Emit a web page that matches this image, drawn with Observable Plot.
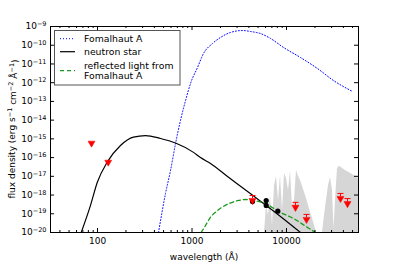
<!DOCTYPE html>
<html><head><meta charset="utf-8">
<script src="https://cdn.jsdelivr.net/npm/d3@7"></script>
<script src="https://cdn.jsdelivr.net/npm/@observablehq/plot@0.6"></script>
<style>body{margin:0;background:#fff} svg{font-family:"DejaVu Sans",sans-serif}</style>
</head><body><div id="chart"></div>
<script>
// Fomalhaut A model (blue dotted)
const fomalhautWave = [442, 524, 592, 669, 755, 854, 964, 1144, 1323, 1648, 2002, 2555, 3422, 4160, 5308, 6772, 9296, 14070, 21280, 31440, 49930];
const fomalhautFlux = [1e-20, 1.2e-18, 2.0e-17, 5.6e-16, 9.6e-15, 1.1e-13, 9.1e-13, 6.5e-12, 3.6e-11, 1.24e-10, 2.6e-10, 4.8e-10, 6.1e-10, 5.4e-10, 4.2e-10, 2.3e-10, 7.6e-11, 2.2e-11, 5.7e-12, 1.3e-12, 3.4e-13];
// neutron star (black)
const neutronWave = [67.2, 84.3, 99.3, 126.7, 175, 240, 322, 464, 669, 1037, 1230, 1570, 2376, 4699, 8640, 14060];
const neutronFlux = [1e-20, 2.8e-19, 4.7e-18, 5.7e-17, 4.4e-16, 1.23e-15, 1.5e-15, 1.05e-15, 6.0e-16, 1.9e-16, 1.0e-16, 4.9e-17, 9.8e-18, 7.4e-19, 7.2e-20, 1e-20];
// reflected light (green dashed)
const reflectedWave = [1250, 1390, 1570, 1774, 2002, 2433, 3105, 3682, 4477, 5709, 8640, 11860, 16690, 20270];
const reflectedFlux = [1e-20, 2.37e-20, 6.6e-20, 1.22e-19, 1.99e-19, 3.42e-19, 5.13e-19, 5.8e-19, 5.13e-19, 3.87e-19, 1.17e-19, 5.6e-20, 1.85e-20, 1e-20];
// upper limits (red)
const limitWave = [86.4, 129.8, 4368, 12450, 16280, 37270, 44220];
const limitFlux = [5.9e-16, 5.7e-17, 5.1e-19, 2.2e-19, 5.0e-20, 6.6e-19, 3.5e-19];
const limitCapped = [false, false, true, true, true, true, true];
// detections (black)
const obsWave = [4368, 6100, 6100, 8090];
const obsFlux = [4.5e-19, 5.1e-19, 2.8e-19, 1.38e-19];
// gray band
const bandWave = [5852, 6143, 6450, 6772, 7110, 7465, 7838, 8229, 8640, 9071, 9524, 10000, 10500, 11020, 11570, 12150, 12760, 13400, 14070, 14770, 15510, 16280, 17090, 17950, 18840, 19790, 20770, 24040, 25240, 26500, 27830, 29220, 30680, 31820, 33000, 34650, 36380, 42100, 49930, 57800];
const bandFlux = [1e-20, 2.8e-19, 8.1e-20, 9.5e-19, 2.4e-20, 3.2e-18, 9.8e-18, 5.1e-19, 1.1e-17, 1.5e-19, 1.42e-17, 7.7e-18, 1.75e-18, 1.8e-17, 2.8e-19, 5.1e-19, 2.05e-17, 9.8e-18, 6.0e-18, 2.9e-18, 1.37e-18, 6.6e-19, 2.8e-19, 1.17e-19, 5.6e-20, 2.4e-20, 1e-20, 1e-20, 8.1e-20, 5.1e-19, 3.2e-18, 8.7e-18, 1.75e-18, 1.6e-20, 5.1e-19, 2.6e-17, 3.4e-17, 2.05e-17, 1.25e-17, 7.7e-18];
// ticks
const xMajorTicks = [100, 1000, 10000];
const xMinorTicks = [40, 50, 60, 70, 80, 90, 200, 300, 400, 500, 600, 700, 800, 900, 2000, 3000, 4000, 5000, 6000, 7000, 8000, 9000, 20000, 30000, 40000, 50000];
const yTicks = [1e-20, 1e-19, 1e-18, 1e-17, 1e-16, 1e-15, 1e-14, 1e-13, 1e-12, 1e-11, 1e-10, 1e-9];
const xDomain = [31.8, 57800];
const yDomain = [1e-20, 1e-9];

const zip = (a, b) => a.map((x, i) => ({x, y: b[i]}));
const W = 399, H = 266, mL = 50, mR = 41, mT = 26, mB = 34;
const pw = W - mL - mR, ph = H - mT - mB;

const capSymbol = {draw(ctx) { ctx.moveTo(-3, -5); ctx.lineTo(3, -5); ctx.moveTo(0, -5); ctx.lineTo(0, -2); }};

const limits = limitWave.map((x, i) => ({x, y: limitFlux[i], cap: limitCapped[i]}));

const chart = Plot.plot({
  width: W, height: H, marginLeft: mL, marginRight: mR, marginTop: mT, marginBottom: mB,
  style: {fontFamily: "DejaVu Sans", fontSize: "9px", background: "white", color: "black"},
  x: {type: "log", domain: xDomain},
  y: {type: "log", domain: yDomain},
  marks: [
    Plot.areaY(bandWave.map((x, i) => ({x, y1: 1e-20, y2: bandFlux[i]})), {x: "x", y1: "y1", y2: "y2", fill: "#d6d6d6", clip: true}),
    Plot.line(zip(fomalhautWave, fomalhautFlux), {x: "x", y: "y", stroke: "#0000ff", strokeWidth: 1, strokeDasharray: "1,2", curve: "monotone-x", clip: true}),
    Plot.line(zip(neutronWave, neutronFlux), {x: "x", y: "y", stroke: "black", strokeWidth: 1.2, curve: "monotone-x", clip: true}),
    Plot.line(zip(reflectedWave, reflectedFlux), {x: "x", y: "y", stroke: "#1a9a1a", strokeWidth: 1.3, strokeDasharray: "4,3", curve: "monotone-x", clip: true}),
    Plot.dot(zip(obsWave, obsFlux), {x: "x", y: "y", r: 2.6, fill: "black"}),
    Plot.dot(limits.filter(d => d.cap), {x: "x", y: "y", symbol: capSymbol, r: 3, stroke: "red", fill: "none", strokeWidth: 1}),
    Plot.dot(limits, {x: "x", y: "y", symbol: "triangle", rotate: 180, r: 2.6, fill: "red", stroke: "red", strokeWidth: 0.5}),
    Plot.frame({stroke: "black", strokeWidth: 1}),
    Plot.tickX(xMajorTicks, {x: d => d, insetTop: ph - 4, stroke: "black"}),
    Plot.tickX(xMajorTicks, {x: d => d, insetBottom: ph - 4, stroke: "black"}),
    Plot.tickX(xMinorTicks, {x: d => d, insetTop: ph - 2, stroke: "black"}),
    Plot.tickX(xMinorTicks, {x: d => d, insetBottom: ph - 2, stroke: "black"}),
    Plot.tickY(yTicks, {y: d => d, insetRight: pw - 4, stroke: "black"}),
    Plot.tickY(yTicks, {y: d => d, insetLeft: pw - 4, stroke: "black"}),
    Plot.axisX({ticks: xMajorTicks, tickSize: 0, tickPadding: 5, tickFormat: d => String(d), label: null}),
    Plot.axisY({ticks: yTicks, tickSize: 0, tickPadding: 4, tickFormat: d => "10^" + Math.round(Math.log10(d)), label: null})
  ]
});

document.getElementById("chart").appendChild(chart);
const svg = d3.select(chart);

// superscript tick labels
svg.selectAll('g[aria-label="y-axis tick label"] text').each(function() {
  const t = d3.select(this);
  const s = t.text();
  const parts = s.split("^");
  if (parts.length !== 2) return;
  t.text(null);
  t.append("tspan").text(parts[0]);
  t.append("tspan").attr("dy", "-0.5em").attr("font-size", "6.5px").text(parts[1].replace("-", "−"));
});

// axis labels
svg.append("text").attr("x", mL + pw / 2).attr("y", 259.5).attr("text-anchor", "middle")
  .attr("font-size", "9px").attr("fill", "black").text("wavelength (Å)");

const yl = svg.append("text").attr("transform", `translate(15,${mT + ph / 2}) rotate(-90)`)
  .attr("text-anchor", "middle").attr("font-size", "9px").attr("fill", "black");
const ylParts = [["flux density (erg s", 0], ["−1", 1], [" cm", 0], ["−2", 1], [" Å", 0], ["−1", 1], [")", 0]];
let prevSup = 0;
ylParts.forEach(([txt, sup]) => {
  const ts = yl.append("tspan").text(txt);
  if (sup !== prevSup) ts.attr("dy", sup ? "-0.45em" : "0.45em");
  if (sup) ts.attr("font-size", "6.5px");
  prevSup = sup;
});

// legend
const lg = svg.append("g").attr("font-size", "9.3px").attr("text-anchor", "start");
lg.append("rect").attr("x", 54.5).attr("y", 30.5).attr("width", 125.5).attr("height", 54.5)
  .attr("fill", "white").attr("stroke", "#555").attr("stroke-width", 1);
const legendRows = [
  {y: 38.7, stroke: "#0000ff", dash: "1,2", width: 1, lines: ["Fomalhaut A"]},
  {y: 51.7, stroke: "black", dash: null, width: 1.2, lines: ["neutron star"]},
  {y: 70.7, stroke: "#1a9a1a", dash: "4,3", width: 1.3, lines: ["reflected light from", "Fomalhaut A"]}
];
legendRows.forEach(r => {
  const ln = lg.append("line").attr("x1", 60).attr("x2", 75).attr("y1", r.y).attr("y2", r.y)
    .attr("stroke", r.stroke).attr("stroke-width", r.width);
  if (r.dash) ln.attr("stroke-dasharray", r.dash);
  const n = r.lines.length;
  r.lines.forEach((s, i) => {
    lg.append("text").attr("x", 84).attr("y", r.y + 3.3 + (i - (n - 1) / 2) * 10.2)
      .attr("text-anchor", "start").attr("fill", "black").text(s);
  });
});
</script>
</body></html>
